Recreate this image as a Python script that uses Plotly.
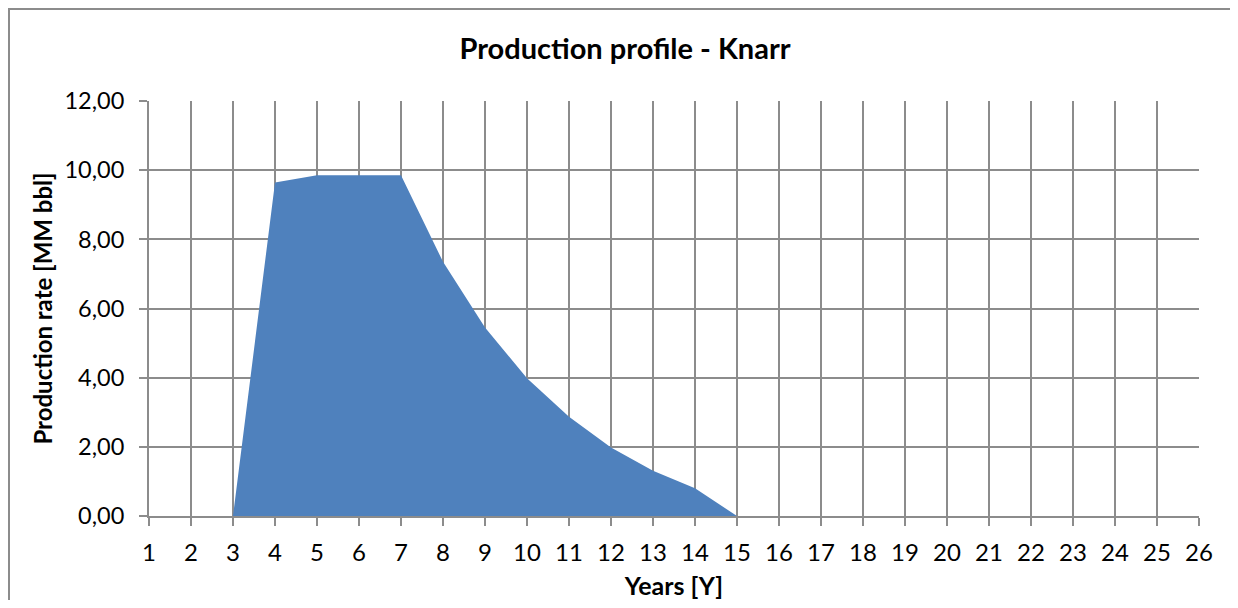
import plotly.graph_objects as go

years = list(range(1, 27))
production = [0, 0, 0, 9.64, 9.85, 9.85, 9.85, 7.35, 5.45, 3.98, 2.87, 1.98, 1.31, 0.80, 0,
              None, None, None, None, None, None, None, None, None, None, None]
y_ticks = [0, 2, 4, 6, 8, 10, 12]
y_tick_labels = ["0,00", "2,00", "4,00", "6,00", "8,00", "10,00", "12,00"]

title_text = "Production profile - Knarr"
x_title = "Years [Y]"
y_title = "Production rate [MM bbl]"

FONT = "Lato"
GRID = "#8C8C8C"

fig = go.Figure()
fig.add_trace(go.Scatter(
    x=years, y=production, mode="lines", fill="tozeroy",
    line=dict(color="#4F81BD", width=0), fillcolor="#4F81BD",
    connectgaps=False, showlegend=False, hoverinfo="x+y",
))

# page body has an 8px margin: figure origin sits at screen (8, 8)
OFF = 8
W, H = 1222, 592
L, T = 149 - OFF, 101 - OFF
R = W - (1199 - OFF)
B = H - (516 - OFF)
pw, ph = W - L - R, H - T - B

fig.update_layout(
    width=W, height=H,
    margin=dict(l=L, r=R, t=T, b=B, autoexpand=False),
    paper_bgcolor="white", plot_bgcolor="white",
    font=dict(family=FONT, size=24, color="black"),
    showlegend=False,
    xaxis=dict(
        range=[1, 26], tickmode="array", tickvals=years,
        ticktext=[str(v) for v in years], automargin=False,
        showgrid=True, gridcolor=GRID, gridwidth=2,
        showline=True, linecolor=GRID, linewidth=2,
        ticks="outside", ticklen=8, tickcolor=GRID, tickwidth=2,
        zeroline=False, ticklabelstandoff=6,
        tickfont=dict(family=FONT, size=24),
        title=dict(text="<b>" + x_title + "</b>", font=dict(family=FONT, size=25), standoff=17),
    ),
    yaxis=dict(
        range=[0, 12], tickmode="array", tickvals=y_ticks, ticktext=y_tick_labels,
        automargin=False,
        showgrid=True, gridcolor=GRID, gridwidth=2,
        showline=True, linecolor=GRID, linewidth=2,
        ticks="outside", ticklen=8, tickcolor=GRID, tickwidth=2,
        zeroline=False, ticklabelstandoff=10,
        tickfont=dict(family=FONT, size=23.5),
        title=dict(text="<b>" + y_title + "</b>", font=dict(family=FONT, size=24), standoff=5),
    ),
    title=dict(text="<b>" + title_text + "</b>", font=dict(family=FONT, size=29),
               x=(625 - OFF - L) / pw, xref="paper", xanchor="center",
               y=1 - (49 - OFF) / H, yref="container", yanchor="middle"),
)

# outer chart-area border (Excel style)
fig.add_shape(type="rect", xref="paper", yref="paper",
              x0=(9 - OFF - L) / pw, x1=(1260 - OFF - L) / pw,
              y0=-(640 - (H - B)) / ph, y1=1 + (T - (9 - OFF)) / ph,
              line=dict(color="#8C8C8C", width=2), fillcolor="rgba(0,0,0,0)", layer="below")

fig.write_html("out.html")
